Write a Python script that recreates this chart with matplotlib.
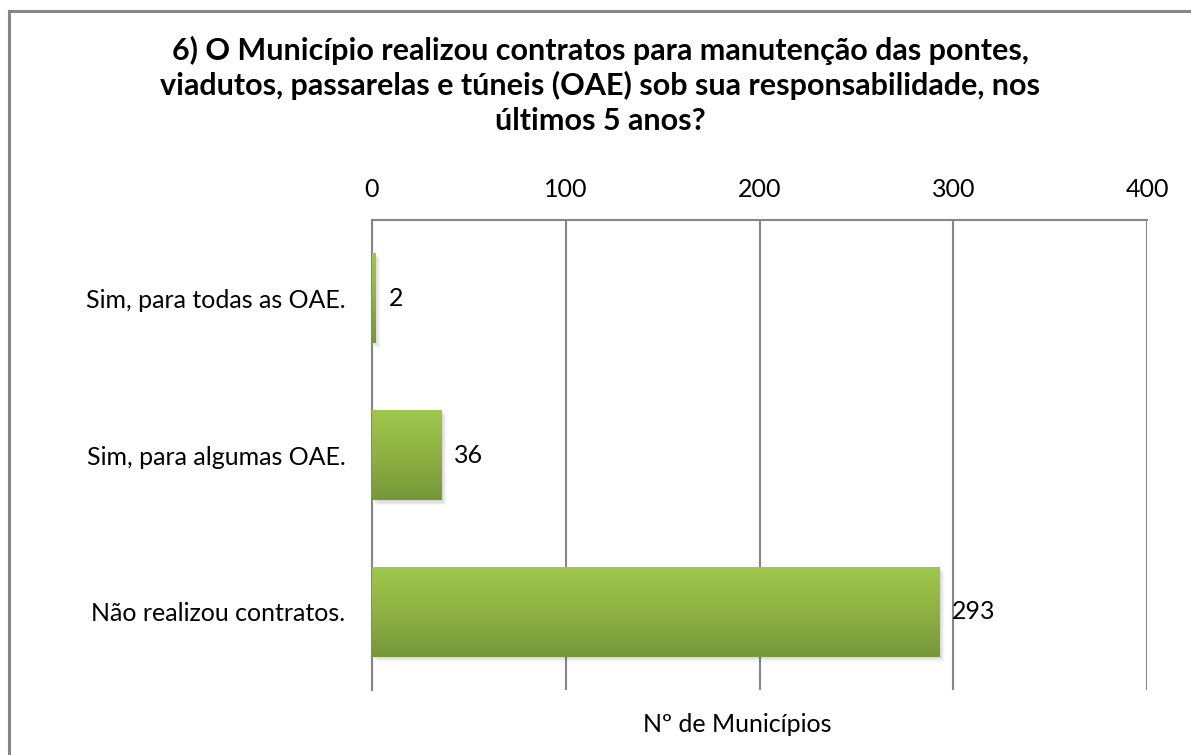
import numpy as np
import matplotlib.pyplot as plt
from matplotlib.patches import Rectangle
from matplotlib.colors import LinearSegmentedColormap

plt.rcParams['font.family'] = ['Lato', 'DejaVu Sans']

# data
categories = ['Sim, para todas as OAE.', 'Sim, para algumas OAE.', 'Não realizou contratos.']
values = [2, 36, 293]
x_ticks = [0, 100, 200, 300, 400]

title_lines = ['6) O Município realizou contratos para manutenção das pontes,',
               'viadutos, passarelas e túneis (OAE) sob sua responsabilidade, nos',
               'últimos 5 anos?']

fig = plt.figure(figsize=(11.91, 7.55), dpi=100)
ax = fig.add_axes([0.3123, 0.0861, 0.6508, 0.6225])

grid_col = '#868686'
ypos = np.arange(len(categories))
bars = ax.barh(ypos, values, height=0.575, color='none', edgecolor='none', zorder=3)

# green vertical gradient + soft shadow like the Excel original
grad = np.linspace(0, 1, 256).reshape(-1, 1)
cmap = LinearSegmentedColormap.from_list('g', ['#a0c84c', '#8fb144', '#76973a'])
for b in bars:
    x0, y0 = b.get_x(), b.get_y()
    w, h = b.get_width(), b.get_height()
    for k in range(1, 5):
        sh = Rectangle((x0 + 0.6 * k, y0 + 0.008 * k), w, h, facecolor='#000000',
                       alpha=0.04, edgecolor='none', zorder=2)
        ax.add_patch(sh)
    im = ax.imshow(grad, extent=(x0, x0 + w, y0 + h, y0), aspect='auto',
                   cmap=cmap, zorder=3, interpolation='bilinear')
    im.set_clip_path(b)

for y, v in zip(ypos, values):
    ax.text(v + 6.5, y, str(v), va='center', ha='left', fontsize=18, color='#000000', zorder=4)

ax.set_xlim(0, 400)
ax.set_ylim(len(categories) - 0.5, -0.5)
ax.set_xticks(x_ticks)
ax.set_yticks(ypos)
ax.set_yticklabels(categories)
ax.xaxis.tick_top()
ax.tick_params(axis='x', length=0, pad=14, labelsize=18)
ax.tick_params(axis='y', length=0, pad=19, labelsize=18)
ax.grid(axis='x', color=grid_col, linewidth=1.5, zorder=1)
ax.set_axisbelow(True)
for s in ['right', 'bottom']:
    ax.spines[s].set_visible(False)
for s in ['top', 'left']:
    ax.spines[s].set_color(grid_col)
    ax.spines[s].set_linewidth(1.5)

# title, one line per text so the line gap matches
for i, line in enumerate(title_lines):
    fig.text(0.504, 0.9338 - i * 0.047, line, ha='center', va='center',
             fontsize=22, fontweight='bold')
fig.text(0.619, 0.04, 'Nº de Municípios', ha='center', va='center', fontsize=18)

# outer chart border (left and top visible)
fig.add_artist(plt.Line2D([0.0076, 0.0076], [0, 0.9854], color='#878787', lw=2.2,
                          transform=fig.transFigure))
fig.add_artist(plt.Line2D([0.0076, 1.0], [0.9854, 0.9854], color='#878787', lw=2.2,
                          transform=fig.transFigure))

fig.savefig('out.png', dpi=100)
